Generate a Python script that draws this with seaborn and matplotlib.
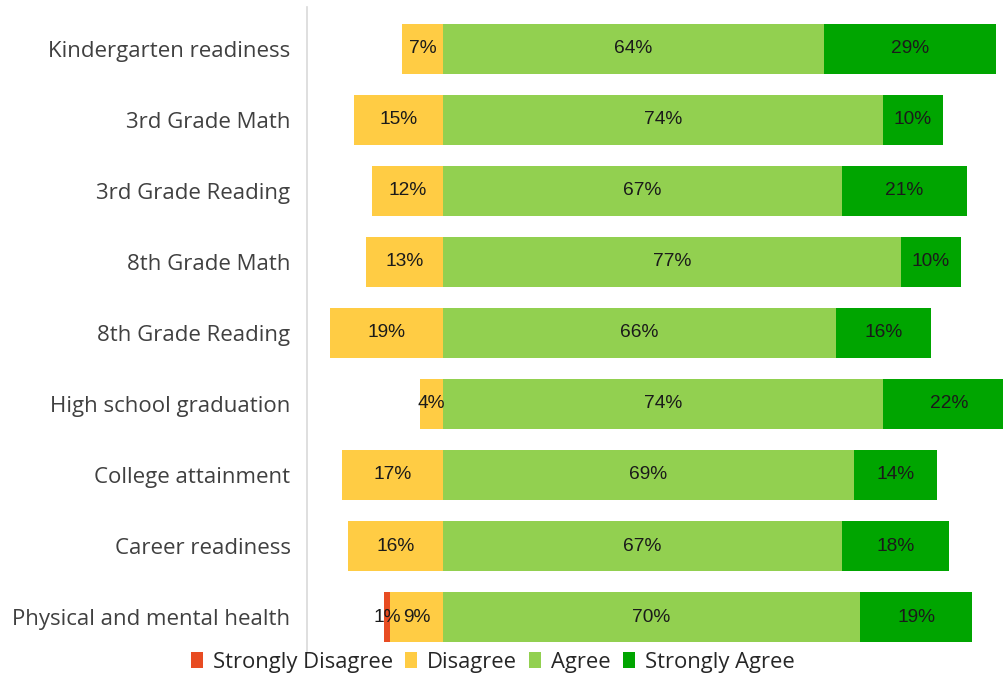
import numpy as np
import pandas as pd
import matplotlib
matplotlib.use("Agg")
import matplotlib.pyplot as plt
import seaborn as sns
from matplotlib.patches import Patch

# data
categories = ["Kindergarten readiness", "3rd Grade Math", "3rd Grade Reading",
              "8th Grade Math", "8th Grade Reading", "High school graduation",
              "College attainment", "Career readiness", "Physical and mental health"]
strongly_disagree = [0, 0, 0, 0, 0, 0, 0, 0, 1]
disagree = [7, 15, 12, 13, 19, 4, 17, 16, 9]
agree = [64, 74, 67, 77, 66, 74, 69, 67, 70]
strongly_agree = [29, 10, 21, 10, 16, 22, 14, 18, 19]

series_names = ["Strongly Disagree", "Disagree", "Agree", "Strongly Agree"]
colors = ["#E84C22", "#FFCC44", "#92D050", "#00A500"]

sns.set_style("white")
plt.rcParams["font.family"] = ["Open Sans", "DejaVu Sans"]

df = pd.DataFrame({"cat": categories, "sd": strongly_disagree, "d": disagree,
                   "a": agree, "sa": strongly_agree})
df["left_outer"] = -(df["d"] + df["sd"])
df["left_inner"] = -df["d"]
df["right_outer"] = df["a"] + df["sa"]
df["right_inner"] = df["a"]

fig = plt.figure(figsize=(10.04, 6.75), dpi=100)
ax = fig.add_axes([0.306, 0.0333, 0.694, 0.9563])

# stacked by overlaying cumulative bars
for col, c in [("left_outer", colors[0]), ("left_inner", colors[1]),
               ("right_outer", colors[3]), ("right_inner", colors[2])]:
    sns.barplot(data=df, x=col, y="cat", order=categories, color=c,
                width=0.7, orient="h", ax=ax, saturation=1, linewidth=0)

# segment labels
lab_font = dict(fontsize=13.8, color="#1a1a1a", family="Liberation Sans",
                ha="center", va="center")
for i, row in df.iterrows():
    if row["sd"] > 0:
        ax.text(-(row["d"] + row["sd"] / 2), i, f"{row['sd']}%", **lab_font)
    ax.text(-row["d"] / 2, i, f"{row['d']}%", **lab_font)
    ax.text(row["a"] / 2, i, f"{row['a']}%", **lab_font)
    ax.text(row["a"] + row["sa"] / 2, i, f"{row['sa']}%", **lab_font)

ax.set_xlim(-22.9, 94.3)
ax.set_ylim(8.5, -0.59)
ax.set_xlabel("")
ax.set_ylabel("")
ax.set_xticks([])
ax.tick_params(axis="y", length=0, pad=12, labelsize=16, labelcolor="#404040")
for s in ["top", "right", "bottom"]:
    ax.spines[s].set_visible(False)
ax.spines["left"].set_color("#D9D9D9")
ax.spines["left"].set_linewidth(1.2)

handles = [Patch(facecolor=c, edgecolor="none", label=n) for n, c in zip(series_names, colors)]
fig.legend(handles=handles, loc="center", bbox_to_anchor=(0.491, 0.019), ncol=4,
           frameon=False, fontsize=15.8, handlelength=0.55, handleheight=0.7,
           handletextpad=0.45, columnspacing=0.55, labelcolor="#262626")

fig.savefig("out.png", dpi=100)
